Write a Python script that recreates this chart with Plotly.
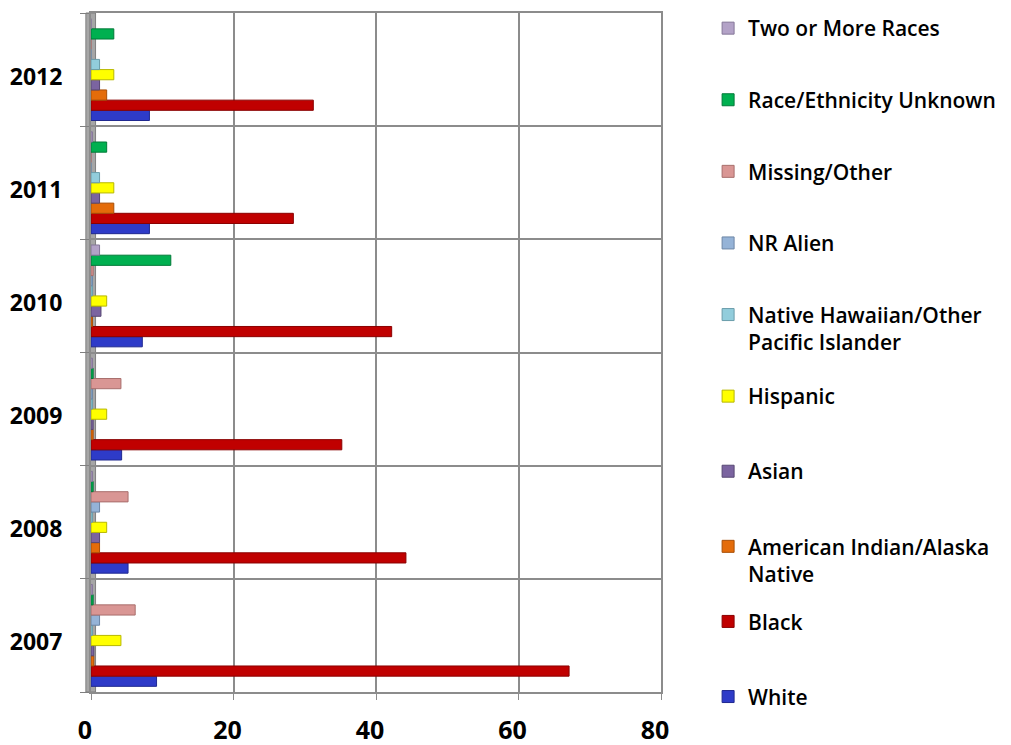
import plotly.graph_objects as go

years = ["2007", "2008", "2009", "2010", "2011", "2012"]

series_names = [
    "White",
    "Black",
    "American Indian/Alaska<br>Native",
    "Asian",
    "Hispanic",
    "Native Hawaiian/Other<br>Pacific Islander",
    "NR Alien",
    "Missing/Other",
    "Race/Ethnicity Unknown",
    "Two or More Races",
]

white = [9.2, 5.2, 4.3, 7.2, 8.2, 8.2]
black = [67.1, 44.2, 35.2, 42.2, 28.4, 31.2]
american_indian = [0.4, 1.2, 0.3, 0.2, 3.2, 2.2]
asian = [0.4, 1.2, 0.3, 1.4, 1.2, 1.2]
hispanic = [4.2, 2.2, 2.2, 2.2, 3.2, 3.2]
native_hawaiian = [0.2, 0.2, 0.2, 0.2, 1.2, 1.2]
nr_alien = [1.2, 1.2, 0.2, 0.2, 0.0, 0.0]
missing_other = [6.2, 5.2, 4.2, 0.3, 0.0, 0.0]
race_unknown = [0.3, 0.3, 0.3, 11.2, 2.2, 3.2]
two_or_more = [0.2, 0.2, 0.2, 1.2, 0.2, 0.0]

series_values = [white, black, american_indian, asian, hispanic,
                 native_hawaiian, nr_alien, missing_other, race_unknown, two_or_more]

colors = ["#2E3BC8", "#C00000", "#E46C0A", "#7B64A0", "#FFFF00",
          "#92CDDC", "#95B3D7", "#D99694", "#00B050", "#B3A2C7"]
edges = ["#1F2890", "#8A0000", "#A84F07", "#584873", "#B8B800",
         "#6A9DAA", "#6D87A6", "#A86E6C", "#007A38", "#857799"]

x_ticks = [0, 20, 40, 60, 80]

fig = go.Figure()
n = len(series_names)
for i, (name, vals, c, e) in enumerate(zip(series_names, series_values, colors, edges)):
    label = name if "<br>" in name else name + "<br>\u00a0"
    fig.add_trace(go.Bar(
        y=years, x=vals, name=label, orientation="h",
        marker=dict(color=c, line=dict(color=e, width=1)),
        legendgroup=name, legendrank=n - i,
        legend="legend" if i >= 5 else "legend2",
    ))

# left 3D wall
fig.add_shape(type="rect", xref="paper", yref="paper",
              x0=-0.009, x1=0.008, y0=0, y1=1.0,
              fillcolor="#A6A6A6", line=dict(color="#7F7F7F", width=1),
              layer="below")

legend_common = dict(
    xref="container", yref="container",
    xanchor="left", yanchor="top",
    traceorder="grouped",
    valign="top",
    font=dict(size=21, family="Open Sans, sans-serif", color="#000000", weight=600),
    itemwidth=30, bgcolor="rgba(0,0,0,0)",
)

fig.update_layout(
    width=1003, height=737,
    barmode="group", bargap=0.1, bargroupgap=0,
    plot_bgcolor="white", paper_bgcolor="white",
    margin=dict(l=83, r=350, t=5, b=53),
    font=dict(family="Open Sans, Lato, sans-serif", color="#000000"),
    legend=dict(x=0.698, y=1.0, tracegroupgap=14, **legend_common),
    legend2=dict(x=0.698, y=0.5007, tracegroupgap=17.5, **legend_common),
    xaxis=dict(
        range=[0, 80], tickvals=x_ticks, ticktext=[str(v) for v in x_ticks],
        showgrid=True, gridcolor="#8C8C8C", gridwidth=2,
        showline=True, linecolor="#8C8C8C", linewidth=2, mirror=True,
        ticks="outside", ticklen=6, tickcolor="#8C8C8C",
        tickfont=dict(size=25, family="Open Sans, sans-serif", weight="bold"),
        ticklabelstandoff=9, ticklabelshift=-6, automargin=False,
        zeroline=False, fixedrange=True,
    ),
    yaxis=dict(
        categoryorder="array", categoryarray=years,
        tickson="boundaries", ticks="outside", ticklen=9, tickcolor="#7F7F7F",
        showgrid=True, gridcolor="#8C8C8C", gridwidth=2,
        showline=True, linecolor="#8C8C8C", linewidth=2, mirror=True,
        tickfont=dict(size=23, family="Open Sans, sans-serif", weight="bold"),
        ticklabelstandoff=22, ticklabelshift=7, automargin=False,
    ),
)

fig.write_html("out.html")
